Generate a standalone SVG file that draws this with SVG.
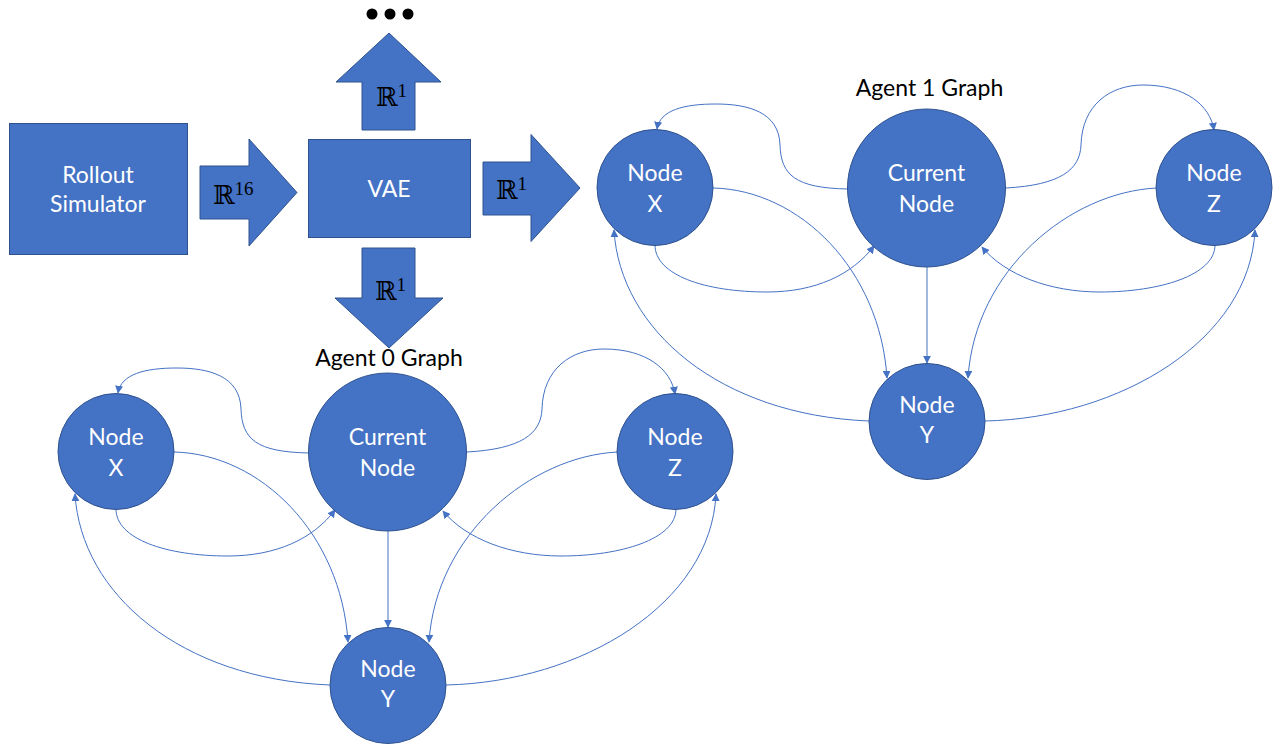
<svg xmlns="http://www.w3.org/2000/svg" width="1280" height="744" viewBox="0 0 1280 744">
<defs>
<style>
.shape{fill:#4472C4;stroke:#2F528F;stroke-width:1}
.lbl{font-family:Lato,"Open Sans","Liberation Sans",sans-serif;font-size:23px;fill:#FFFFFF;text-anchor:middle}
.title{font-family:Lato,"Open Sans","Liberation Sans",sans-serif;font-size:23px;fill:#000000;text-anchor:middle}
.math{font-family:"DejaVu Serif","DejaVu Sans",serif;font-size:26px;fill:#000000}
.sup{font-family:"Liberation Serif",serif;font-size:19px;fill:#000000}
.con{fill:none;stroke:#4472C4;stroke-width:1}
</style>
<marker id="ah" viewBox="0 0 10 10" refX="9" refY="5" markerWidth="8" markerHeight="8" markerUnits="userSpaceOnUse" orient="auto">
<path d="M0,0 L10,5 L0,10 z" fill="#4472C4"/>
</marker>
</defs>
<rect width="1280" height="744" fill="#FFFFFF"/>

<g id="rollout-simulator">
<rect class="shape" x="9.5" y="123.5" width="178" height="131"/>
<text class="lbl" x="98" y="183">Rollout</text>
<text class="lbl" x="98" y="212">Simulator</text>
</g>

<g id="vae">
<rect class="shape" x="308.5" y="139.5" width="162" height="98"/>
<text class="lbl" x="389" y="197">VAE</text>
</g>

<g id="ellipsis">
<circle cx="372" cy="14" r="5.5" fill="#000"/>
<circle cx="390" cy="14" r="5.5" fill="#000"/>
<circle cx="408" cy="14" r="5.5" fill="#000"/>
</g>

<g id="block-arrows">
<g id="arrow-r16">
<polygon class="shape" points="200,166 249,166 249,139 297,192.5 249,246 249,219 200,219"/>
<text x="213" y="204"><tspan class="math">ℝ</tspan><tspan class="sup" dy="-9">16</tspan></text>
</g>
<g id="arrow-right-r1">
<polygon class="shape" points="483,162 531,162 531,134.5 580,188 531,241.5 531,215 483,215"/>
<text x="496" y="199"><tspan class="math">ℝ</tspan><tspan class="sup" dy="-9">1</tspan></text>
</g>
<g id="arrow-up-r1">
<polygon class="shape" points="389,33 441,82 415,82 415,130 362,130 362,82 336,82"/>
<text x="376" y="106"><tspan class="math">ℝ</tspan><tspan class="sup" dy="-9">1</tspan></text>
</g>
<g id="arrow-down-r1">
<polygon class="shape" points="362,248 415,248 415,298 443,298 389,348 335,298 362,298"/>
<text x="375" y="300"><tspan class="math">ℝ</tspan><tspan class="sup" dy="-9">1</tspan></text>
</g>
</g>

<text id="agent1-title" class="title" x="929.5" y="96">Agent 1 Graph</text>
<text id="agent0-title" class="title" x="389" y="366">Agent 0 Graph</text>

<g id="agent1-graph">
<g id="agent1-connectors">
<path class="con" marker-end="url(#ah)" d="M848,189 C795,188 781,175 780,145 C779,112 748,104 716,104 C684,104 660,110 657,129"/>
<path class="con" marker-end="url(#ah)" d="M1006,188 C1060,185 1080,170 1081,145 C1082,105 1110,85 1143,85 C1185,85 1210,105 1214,130"/>
<path class="con" marker-end="url(#ah)" d="M713,188 C800,190 880,270 887,378"/>
<path class="con" marker-end="url(#ah)" d="M655,245 C655,275 705,292 767,292 C815,292 852,275 874,246"/>
<path class="con" marker-end="url(#ah)" d="M927,267 L927,363"/>
<path class="con" marker-end="url(#ah)" d="M1215,245 C1215,275 1160,292 1100,292 C1050,292 1005,275 982,247"/>
<path class="con" marker-end="url(#ah)" d="M1157,188 C1070,192 975,270 968,378"/>
<path class="con" marker-end="url(#ah)" d="M869,421 C720,415 620,330 614,230"/>
<path class="con" marker-end="url(#ah)" d="M985,421 C1120,418 1250,340 1255,230"/>
</g>
<g id="agent1-node-x">
<circle class="shape" cx="655" cy="187.5" r="58"/>
<text class="lbl" x="655" y="181">Node</text>
<text class="lbl" x="655" y="212">X</text>
</g>
<g id="agent1-current-node">
<circle class="shape" cx="926.5" cy="188" r="79"/>
<text class="lbl" x="926.5" y="181">Current</text>
<text class="lbl" x="926.5" y="212">Node</text>
</g>
<g id="agent1-node-z">
<circle class="shape" cx="1214" cy="187.5" r="58"/>
<text class="lbl" x="1214" y="181">Node</text>
<text class="lbl" x="1214" y="212">Z</text>
</g>
<g id="agent1-node-y">
<circle class="shape" cx="927" cy="421.5" r="58"/>
<text class="lbl" x="927" y="413">Node</text>
<text class="lbl" x="927" y="443">Y</text>
</g>
</g>

<g id="agent0-graph" transform="translate(-539,264)">
<g id="agent0-connectors">
<path class="con" marker-end="url(#ah)" d="M848,189 C795,188 781,175 780,145 C779,112 748,104 716,104 C684,104 660,110 657,129"/>
<path class="con" marker-end="url(#ah)" d="M1006,188 C1060,185 1080,170 1081,145 C1082,105 1110,85 1143,85 C1185,85 1210,105 1214,130"/>
<path class="con" marker-end="url(#ah)" d="M713,188 C800,190 880,270 887,378"/>
<path class="con" marker-end="url(#ah)" d="M655,245 C655,275 705,292 767,292 C815,292 852,275 874,246"/>
<path class="con" marker-end="url(#ah)" d="M927,267 L927,363"/>
<path class="con" marker-end="url(#ah)" d="M1215,245 C1215,275 1160,292 1100,292 C1050,292 1005,275 982,247"/>
<path class="con" marker-end="url(#ah)" d="M1157,188 C1070,192 975,270 968,378"/>
<path class="con" marker-end="url(#ah)" d="M869,421 C720,415 620,330 614,230"/>
<path class="con" marker-end="url(#ah)" d="M985,421 C1120,418 1250,340 1255,230"/>
</g>
<g id="agent0-node-x">
<circle class="shape" cx="655" cy="187.5" r="58"/>
<text class="lbl" x="655" y="181">Node</text>
<text class="lbl" x="655" y="212">X</text>
</g>
<g id="agent0-current-node">
<circle class="shape" cx="926.5" cy="188" r="79"/>
<text class="lbl" x="926.5" y="181">Current</text>
<text class="lbl" x="926.5" y="212">Node</text>
</g>
<g id="agent0-node-z">
<circle class="shape" cx="1214" cy="187.5" r="58"/>
<text class="lbl" x="1214" y="181">Node</text>
<text class="lbl" x="1214" y="212">Z</text>
</g>
<g id="agent0-node-y">
<circle class="shape" cx="927" cy="421.5" r="58"/>
<text class="lbl" x="927" y="413">Node</text>
<text class="lbl" x="927" y="443">Y</text>
</g>
</g>
</svg>
